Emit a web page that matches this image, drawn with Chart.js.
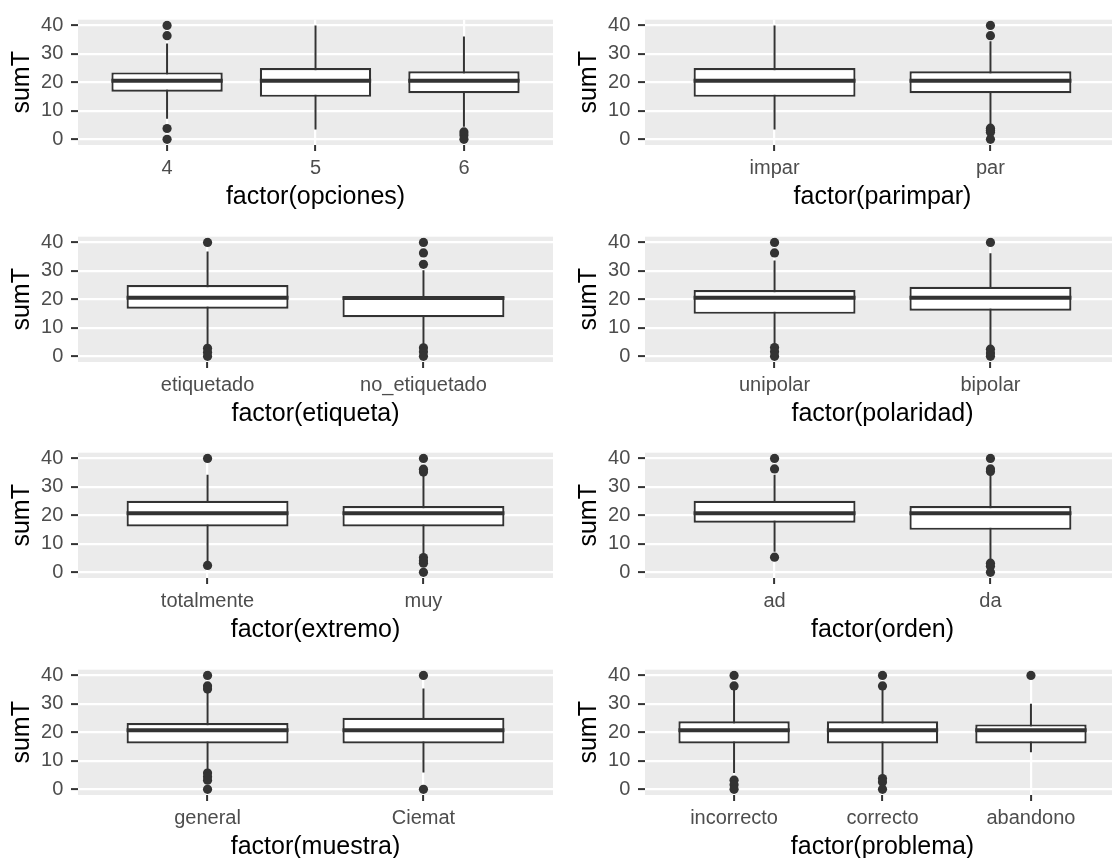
<!DOCTYPE html>
<html><head><meta charset="utf-8">
<script src="https://cdn.jsdelivr.net/npm/chart.js@4/dist/chart.umd.min.js"></script>
<style>
html,body{margin:0;padding:0;background:#fff;}
#wrap{position:relative;width:1112px;height:858px;overflow:hidden;background:#fff;}
.cell{position:absolute;width:567px;height:217px;}
</style></head><body><div id="wrap"></div>
<script>
// ---------- data ----------
const panelVars = ['opciones','parimpar','etiqueta','polaridad','extremo','orden','muestra','problema'];
const categories = [['4','5','6'],['impar','par'],['etiquetado','no_etiquetado'],['unipolar','bipolar'],['totalmente','muy'],['ad','da'],['general','Ciemat'],['incorrecto','correcto','abandono']];
const whiskerLow  = [[7.2,3.4,4.4],[3.4,4.9],[3.7,3.9],[3.7,3.5],[3.8,6.1],[7.2,3.9],[6.7,5.9],[5.7,4.4,13.0]];
const q1          = [[16.7,14.9,16.2],[14.9,16.2],[16.7,13.7],[14.9,16.0],[16.1,16.1],[17.4,14.9],[16.1,16.1],[16.1,16.1,16.1]];
const median      = [[20.6,20.6,20.6],[20.6,20.6],[20.6,20.5],[20.6,20.6],[20.7,20.7],[20.7,20.7],[20.7,20.7],[20.7,20.7,20.7]];
const q3          = [[23.5,25.0,23.9],[25.0,23.9],[25.0,20.8],[23.3,24.4],[25.1,23.3],[25.1,23.3],[23.3,25.1],[23.9,23.9,22.8]];
const whiskerHigh = [[33.6,40.0,36.1],[40.0,34.4],[36.8,30.2],[33.6,36.2],[34.3,34.5],[34.3,34.8],[34.8,35.4],[35.4,35.4,30.0]];
const outliers = [
  [[40,36.4,3.8,0],[],[2.6,1.5,0]],
  [[],[40,36.4,3.9,3.2,2.5,0]],
  [[40,2.8,1.4,0],[40,36.3,32.3,3.0,1.6,0]],
  [[40,36.3,3.1,1.6,0],[40,2.5,1.2,0]],
  [[40,2.4],[40,36.2,35.2,5.2,4.1,3.2,0]],
  [[40,36.3,5.3],[40,36.3,35.4,3.2,2.1,0]],
  [[40,36.3,35.2,5.7,4.4,3.2,0],[40,0]],
  [[40,36.3,3.2,1.6,0],[40,36.3,3.8,2.6,0],[40]]
];
const yBreaks = [0,10,20,30,40];
const yMinorBreaks = [5,15,25,35];
const yTitle = 'sumT';

// ---------- style / layout ----------
const FONT = "'Liberation Sans', Arial, sans-serif";
const BOX_WIDTH = 0.75;
const CELL_W = 567, CELL_H = 217, ROW_PITCH = 216.7;
const INK = '#333333';

const panelBg = {
  id: 'panelBg',
  beforeDraw(chart) {
    const {ctx, chartArea: a} = chart;
    ctx.save();
    ctx.fillStyle = '#EBEBEB';
    ctx.fillRect(a.left, a.top, a.right - a.left, a.bottom - a.top);
    ctx.restore();
  }
};

const wrap = document.getElementById('wrap');
panelVars.forEach((v, p) => {
  const row = Math.floor(p / 2), col = p % 2;
  const div = document.createElement('div');
  div.className = 'cell';
  div.style.left = (col * CELL_W) + 'px';
  div.style.top = Math.round(row * ROW_PITCH) + 'px';
  const cv = document.createElement('canvas');
  cv.width = CELL_W; cv.height = CELL_H;
  div.appendChild(cv);
  wrap.appendChild(div);

  const cats = categories[p];
  const n = cats.length;
  const boxData = cats.map((c, i) => ({x: i + 1, y: [q1[p][i], q3[p][i]]}));
  const whiskData = [];
  cats.forEach((c, i) => {
    whiskData.push({x: i + 1, y: whiskerLow[p][i]});
    whiskData.push({x: i + 1, y: whiskerHigh[p][i]});
    whiskData.push({x: i + 1, y: null});
  });
  const medData = [];
  cats.forEach((c, i) => {
    medData.push({x: i + 1 - BOX_WIDTH / 2, y: median[p][i]});
    medData.push({x: i + 1 + BOX_WIDTH / 2, y: median[p][i]});
    medData.push({x: i + 1 + BOX_WIDTH / 2, y: null});
  });
  const outData = [];
  cats.forEach((c, i) => outliers[p][i].forEach(o => outData.push({x: i + 1, y: o})));

  new Chart(cv, {
    type: 'bar',
    data: {
      datasets: [
        {type: 'line', data: whiskData, borderColor: INK, borderWidth: 2, pointRadius: 0, spanGaps: false, fill: false, order: 3},
        {type: 'bar', data: boxData, backgroundColor: '#FFFFFF', borderColor: INK, borderWidth: 2.2, borderSkipped: false,
         categoryPercentage: 1, barPercentage: BOX_WIDTH, order: 2},
        {type: 'line', data: medData, borderColor: INK, borderWidth: 4, pointRadius: 0, spanGaps: false, fill: false, order: 1,
         borderCapStyle: 'butt'},
        {type: 'scatter', data: outData, backgroundColor: INK, borderWidth: 0, pointRadius: 4.6, order: 0}
      ]
    },
    options: {
      responsive: false, animation: false, devicePixelRatio: 1,
      layout: {padding: {top: 17, right: CELL_W - 553, left: 0, bottom: 0}},
      plugins: {legend: {display: false}, tooltip: {enabled: false}},
      scales: {
        x: {
          type: 'linear', min: 0.4, max: n + 0.6, offset: false,
          afterBuildTicks: ax => { ax.ticks = cats.map((c, i) => ({value: i + 1})); },
          afterFit: ax => { ax.height = CELL_H - 145; },
          grid: {offset: false, color: '#FFFFFF', lineWidth: 2.2, drawTicks: true, tickLength: 6, tickColor: INK, tickWidth: 2},
          border: {display: false},
          ticks: {autoSkip: false, maxRotation: 0, padding: 5, color: '#4D4D4D', font: {family: FONT, size: 20, lineHeight: 1.2},
                  callback: val => cats[Math.round(val) - 1]},
          title: {display: true, text: 'factor(' + v + ')', color: '#000000', font: {family: FONT, size: 25, lineHeight: 1.2},
                  padding: {top: 0, bottom: 4.5}}
        },
        y: {
          type: 'linear', min: -2, max: 42,
          afterBuildTicks: ax => { ax.ticks = yBreaks.concat(yMinorBreaks).sort((a, b) => a - b).map(t => ({value: t})); },
          afterFit: ax => { ax.width = 78; },
          grid: {
            color: '#FFFFFF',
            lineWidth: ctx => (ctx.tick && yBreaks.includes(ctx.tick.value)) ? 2.2 : 1.1,
            drawTicks: true, tickLength: 7, tickWidth: 2,
            tickColor: ctx => (ctx.tick && yBreaks.includes(ctx.tick.value)) ? INK : 'rgba(0,0,0,0)'
          },
          border: {display: false},
          ticks: {padding: 7.7, color: '#4D4D4D', font: {family: FONT, size: 20, lineHeight: 1.2},
                  callback: val => yBreaks.includes(val) ? String(val) : ''},
          title: {display: true, text: yTitle, color: '#000000', font: {family: FONT, size: 25, lineHeight: 1.2},
                  padding: {top: 7.5, bottom: 0}}
        }
      }
    },
    plugins: [panelBg]
  });
});
</script>
</body></html>
